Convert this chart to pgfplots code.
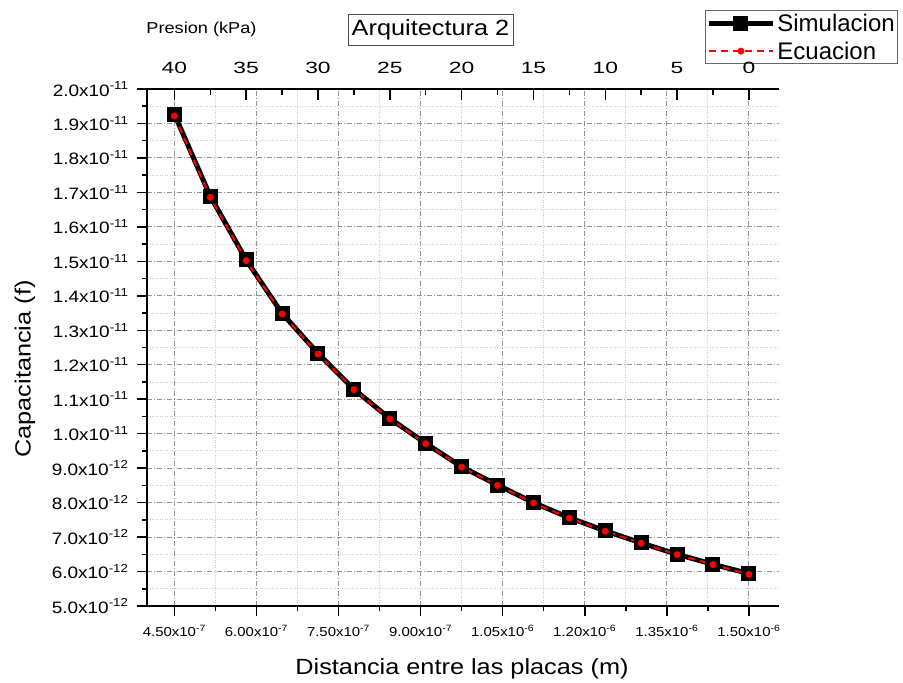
\documentclass[border=0pt]{standalone}
\usepackage{fontspec}
\setmainfont{Liberation Sans}[FakeStretch=1.15]
\newfontfamily\legfont{Liberation Sans}
\newfontfamily\tickfont{Liberation Sans}[FakeStretch=1.4]
\usepackage{pgfplots}
\pgfplotsset{compat=1.18}

% distancia (m) / capacitancia (F)
\pgfplotstableread{
d C
4.5e-7      1.927e-11
5.15625e-7  1.689e-11
5.8125e-7   1.504e-11
6.46875e-7  1.349e-11
7.125e-7    1.233e-11
7.78125e-7  1.129e-11
8.4375e-7   1.044e-11
9.09375e-7  0.972e-11
9.75e-7     0.904e-11
1.040625e-6 0.851e-11
1.10625e-6  0.800e-11
1.171875e-6 0.756e-11
1.2375e-6   0.718e-11
1.303125e-6 0.683e-11
1.36875e-6  0.650e-11
1.434375e-6 0.621e-11
1.5e-6      0.594e-11
}\simdata
\pgfplotstableread{
d C
4.5e-7      1.922e-11
5.15625e-7  1.686e-11
5.8125e-7   1.502e-11
6.46875e-7  1.347e-11
7.125e-7    1.231e-11
7.78125e-7  1.128e-11
8.4375e-7   1.043e-11
9.09375e-7  0.971e-11
9.75e-7     0.903e-11
1.040625e-6 0.850e-11
1.10625e-6  0.799e-11
1.171875e-6 0.755e-11
1.2375e-6   0.717e-11
1.303125e-6 0.682e-11
1.36875e-6  0.649e-11
1.434375e-6 0.620e-11
1.5e-6      0.592e-11
}\ecudata

\begin{document}
\begin{tikzpicture}[x=1pt,y=1pt]
\path[use as bounding box] (0pt,0pt) rectangle (903pt,683pt);

\begin{axis}[
	at={(147pt,77pt)}, anchor=south west,
	scale only axis, width=632pt, height=517pt,
	xmin=4.0e-7, xmax=1.555e-6, ymin=5e-12, ymax=2e-11,
	axis x line*=bottom, axis y line*=left,
	axis line style={line width=1.8pt,-},
	tick align=outside,
	major tick length=10pt, minor tick length=5pt,
	every tick/.style={black, line width=1.5pt},
	scaled x ticks=false, scaled y ticks=false,
	xtick={4.5e-7,6e-7,7.5e-7,9e-7,1.05e-6,1.2e-6,1.35e-6,1.5e-6},
	xticklabels={4.50x10\textsuperscript{-7},6.00x10\textsuperscript{-7},7.50x10\textsuperscript{-7},9.00x10\textsuperscript{-7},
		1.05x10\textsuperscript{-6},1.20x10\textsuperscript{-6},1.35x10\textsuperscript{-6},1.50x10\textsuperscript{-6}},
	minor x tick num=1,
	ytick={5e-12,6e-12,7e-12,8e-12,9e-12,1e-11,1.1e-11,1.2e-11,1.3e-11,1.4e-11,1.5e-11,1.6e-11,1.7e-11,1.8e-11,1.9e-11,2e-11},
	yticklabels={5.0x10\textsuperscript{-12},6.0x10\textsuperscript{-12},7.0x10\textsuperscript{-12},8.0x10\textsuperscript{-12},9.0x10\textsuperscript{-12},
		1.0x10\textsuperscript{-11},1.1x10\textsuperscript{-11},1.2x10\textsuperscript{-11},1.3x10\textsuperscript{-11},1.4x10\textsuperscript{-11},
		1.5x10\textsuperscript{-11},1.6x10\textsuperscript{-11},1.7x10\textsuperscript{-11},1.8x10\textsuperscript{-11},1.9x10\textsuperscript{-11},2.0x10\textsuperscript{-11}},
	minor y tick num=1,
	xticklabel style={font=\fontsize{13}{15}\selectfont, yshift=-6pt},
	yticklabel style={font=\fontsize{16.5}{18}\selectfont, xshift=-5pt},
	grid=both,
	major grid style={gray!85, line width=0.9pt, dash pattern=on 5pt off 2pt on 1pt off 2pt},
	minor grid style={gray!40, line width=0.9pt, dash pattern=on 1pt off 1.5pt},
	legend cell align=left,
	legend style={at={(0.8829,1.152)}, anchor=north west, draw=black!60, line width=0.8pt,
		font=\legfont\fontsize{24}{27}\selectfont, inner sep=1pt, row sep=5pt,
		/tikz/every even column/.append style={column sep=2pt}},
	legend image code/.code={\draw[mark repeat=2,mark phase=2,#1] plot coordinates {(0pt,0pt) (32pt,0pt) (64pt,0pt)};},
]
\addplot[black, line width=5pt, mark=square*, mark size=7pt, mark options={solid, line width=1pt}]
	table[x=d, y=C] {\simdata};
\addlegendentry{Simulacion}
\addplot[red, line width=2pt, dash pattern=on 7pt off 5pt, mark=*, mark size=3.2pt, mark options={solid, line width=0.5pt}]
	table[x=d, y=C] {\ecudata};
\addlegendentry{Ecuacion}
\end{axis}

% eje superior: presion
\begin{axis}[
	at={(147pt,77pt)}, anchor=south west,
	scale only axis, width=632pt, height=517pt,
	xmin=-2.095, xmax=41.905, x dir=reverse, ymin=0, ymax=1,
	axis x line*=top, axis y line=none,
	axis line style={line width=1.8pt,-},
	tick align=inside,
	major tick length=11pt, minor tick length=6pt,
	every tick/.style={black, line width=1.5pt},
	xtick={0,5,10,15,20,25,30,35,40},
	xticklabels={0,5,10,15,20,25,30,35,40},
	minor xtick={2.5,7.5,12.5,17.5,22.5,27.5,32.5,37.5},
	xticklabel style={font=\tickfont\fontsize{16.3}{18}\selectfont, yshift=12pt},
]
\end{axis}

\node[anchor=base, font=\fontsize{15.8}{18}\selectfont] at (201.5pt,649pt) {Presion (kPa)};
\node[draw=black!70, line width=0.8pt, fill=white, minimum width=165pt, minimum height=31pt, inner sep=2pt,
	font=\fontsize{22}{26}\selectfont] at (430.5pt,653.5pt) {Arquitectura 2};
\node[anchor=base, font=\fontsize{22}{26}\selectfont] at (462pt,8pt) {Distancia entre las placas (m)};
\node[rotate=90, font=\fontsize{22}{26}\selectfont] at (25pt,314pt) {Capacitancia (f)};
\end{tikzpicture}
\end{document}
